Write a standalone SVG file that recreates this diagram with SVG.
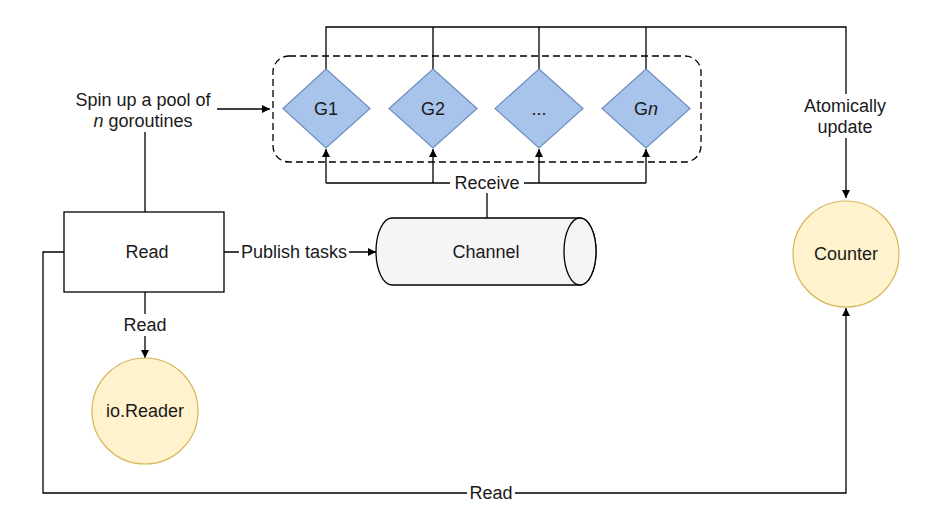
<svg xmlns="http://www.w3.org/2000/svg" width="937" height="523" viewBox="0 0 937 523">
<defs>
<style>
text{font-family:"Liberation Sans",Arial,sans-serif;font-size:18px;fill:#1a1a1a;text-anchor:middle;dominant-baseline:central}
.ln{fill:none;stroke:#000;stroke-width:1.3}
.dia{fill:#a9c4eb;stroke:#6c8ebf;stroke-width:1.2}
.yel{fill:#fff2cc;stroke:#d6b656;stroke-width:1.2}
.bg{fill:#fff}
</style>
<marker id="ar" viewBox="0 0 10 10" refX="10" refY="5" markerWidth="8" markerHeight="8" markerUnits="userSpaceOnUse" orient="auto">
<path d="M0,0 L10,5 L0,10 z" fill="#000"/>
</marker>
</defs>
<rect width="937" height="523" fill="#fff"/>
<g id="connectors">
<path class="ln" d="M326,69 V27 H846 V198" marker-end="url(#ar)"/>
<path class="ln" d="M433,69 V27 M539,69 V27 M646,69 V27"/>
<path class="ln" d="M326,183 H646"/>
<path class="ln" d="M326,183 V149" marker-end="url(#ar)"/>
<path class="ln" d="M433,183 V149" marker-end="url(#ar)"/>
<path class="ln" d="M539,183 V149" marker-end="url(#ar)"/>
<path class="ln" d="M646,183 V149" marker-end="url(#ar)"/>
<path class="ln" d="M487,183 V218"/>
<path class="ln" d="M145,212 V132"/>
<path class="ln" d="M217,109 H270" marker-end="url(#ar)"/>
<path class="ln" d="M224,252 H376" marker-end="url(#ar)"/>
<path class="ln" d="M145,292 V358" marker-end="url(#ar)"/>
<path class="ln" d="M64,252 H43 V493 H846 V308" marker-end="url(#ar)"/>
<rect class="bg" x="813" y="94" width="66" height="44"/>
<text x="845" y="106">Atomically</text>
<text x="845" y="127">update</text>
<rect class="bg" x="450" y="173" width="74" height="20"/>
<text x="487" y="183">Receive</text>
<rect class="bg" x="239" y="242" width="110" height="20"/>
<text x="294" y="252">Publish tasks</text>
<rect class="bg" x="121" y="314" width="48" height="22"/>
<text x="145" y="325">Read</text>
<rect class="bg" x="467" y="483" width="48" height="20"/>
<text x="491" y="493">Read</text>
<text x="143" y="100">Spin up a pool of</text>
<text x="143" y="121"><tspan font-style="italic">n</tspan> goroutines</text>
</g>
<g id="pool">
<rect x="273" y="56" width="428" height="106" rx="16" ry="16" fill="none" stroke="#000" stroke-width="1.3" stroke-dasharray="7,4"/>
</g>
<g id="g1">
<polygon class="dia" points="326,69 370,108.5 326,148 283,108.5"/>
<text x="326" y="109">G1</text>
</g>
<g id="g2">
<polygon class="dia" points="433,69 477,108.5 433,148 389,108.5"/>
<text x="433" y="109">G2</text>
</g>
<g id="gdots">
<polygon class="dia" points="539,69 583,108.5 539,148 495,108.5"/>
<text x="539" y="109">...</text>
</g>
<g id="gn">
<polygon class="dia" points="646,69 690,108.5 646,148 602,108.5"/>
<text x="646" y="109">G<tspan font-style="italic">n</tspan></text>
</g>
<g id="read">
<rect x="64" y="212" width="160" height="80" fill="#fff" stroke="#000" stroke-width="1.3"/>
<text x="147" y="252">Read</text>
</g>
<g id="channel">
<path d="M392,218 H580 A16,33.5 0 0 1 580,285 H392 A16,33.5 0 0 1 392,218 Z" fill="#f5f5f5" stroke="#000" stroke-width="1.3"/>
<ellipse cx="580" cy="251.5" rx="16" ry="33.5" fill="#f5f5f5" stroke="#000" stroke-width="1.3"/>
<text x="486" y="252">Channel</text>
</g>
<g id="counter">
<circle class="yel" cx="846" cy="254" r="53"/>
<text x="846" y="254">Counter</text>
</g>
<g id="ioreader">
<circle class="yel" cx="145" cy="411" r="53"/>
<text x="145" y="411">io.Reader</text>
</g>
</svg>
